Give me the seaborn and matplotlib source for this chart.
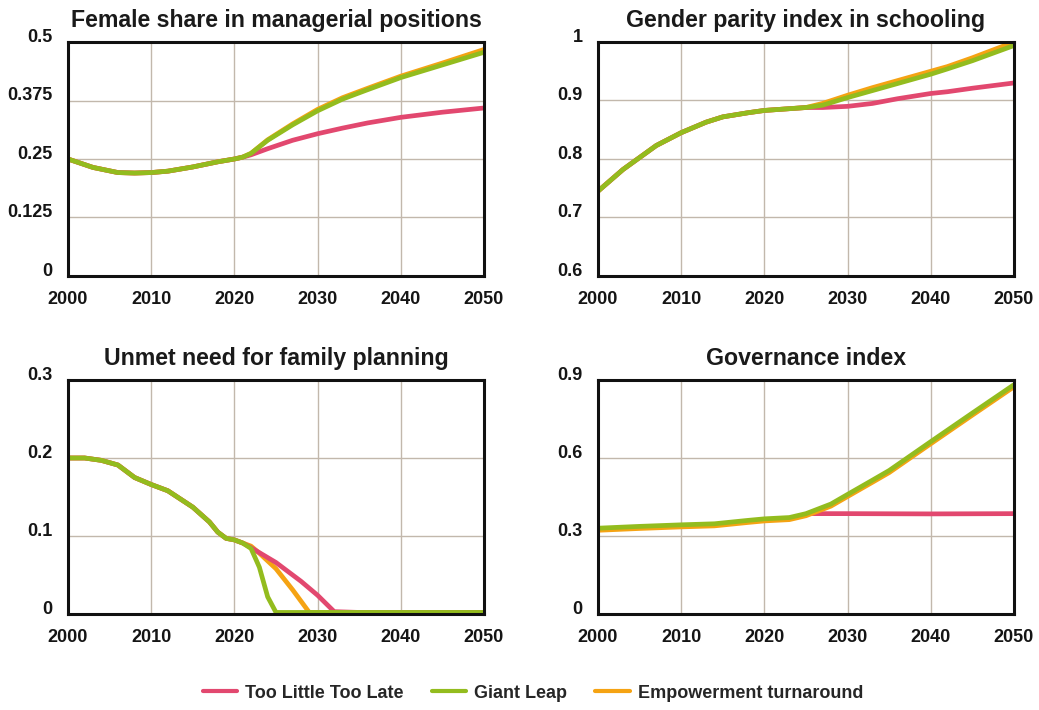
import numpy as np
import pandas as pd
import matplotlib
matplotlib.use("Agg")
import matplotlib.pyplot as plt
from matplotlib.lines import Line2D
import seaborn as sns

# ---------------- data ----------------
series_names = ["Too Little Too Late", "Giant Leap", "Empowerment turnaround"]
colors = {"Too Little Too Late": "#E2486F", "Giant Leap": "#93BC1E", "Empowerment turnaround": "#F5A313"}

titles = ["Female share in managerial positions", "Gender parity index in schooling",
          "Unmet need for family planning", "Governance index"]

# Panel 1: Female share in managerial positions
p1_years_hist = [2000, 2003, 2006, 2008, 2010, 2012, 2015, 2018, 2020, 2021]
p1_hist = [0.250, 0.232, 0.221, 0.220, 0.221, 0.224, 0.233, 0.244, 0.250, 0.254]
p1_years_proj = [2021, 2022, 2024, 2027, 2030, 2033, 2036, 2040, 2045, 2050]
p1_red = [0.254, 0.259, 0.272, 0.290, 0.304, 0.316, 0.327, 0.339, 0.350, 0.359]
p1_green = [0.254, 0.262, 0.290, 0.323, 0.353, 0.378, 0.398, 0.424, 0.451, 0.478]
p1_orange = [0.254, 0.262, 0.291, 0.325, 0.356, 0.381, 0.401, 0.427, 0.455, 0.484]

# Panel 2: Gender parity index in schooling
p2_years_hist = [2000, 2003, 2007, 2010, 2013, 2015, 2018, 2020, 2022, 2025]
p2_hist = [0.745, 0.782, 0.823, 0.845, 0.863, 0.872, 0.879, 0.883, 0.885, 0.888]
p2_years_proj = [2025, 2027, 2030, 2033, 2036, 2040, 2042, 2045, 2050]
p2_red = [0.888, 0.888, 0.890, 0.895, 0.903, 0.912, 0.915, 0.921, 0.930]
p2_green = [0.888, 0.892, 0.905, 0.917, 0.929, 0.945, 0.954, 0.968, 0.994]
p2_orange = [0.888, 0.895, 0.909, 0.922, 0.934, 0.950, 0.958, 0.973, 1.000]

# Panel 3: Unmet need for family planning
p3_years_hist = [2000, 2002, 2004, 2006, 2008, 2010, 2012, 2015, 2017, 2018, 2019, 2020, 2021]
p3_hist = [0.200, 0.200, 0.197, 0.191, 0.175, 0.166, 0.158, 0.137, 0.118, 0.105, 0.097, 0.095, 0.091]
p3_years_red = [2021, 2022, 2025, 2028, 2030, 2032, 2035, 2040, 2050]
p3_red = [0.091, 0.085, 0.066, 0.042, 0.024, 0.003, 0.002, 0.002, 0.002]
p3_years_green = [2021, 2022, 2023, 2024, 2025, 2030, 2040, 2050]
p3_green = [0.091, 0.084, 0.060, 0.022, 0.002, 0.002, 0.002, 0.002]
p3_years_orange = [2021, 2022, 2023, 2025, 2027, 2029, 2035, 2050]
p3_orange = [0.091, 0.087, 0.078, 0.058, 0.031, 0.002, 0.002, 0.002]

# Panel 4: Governance index
p4_years = [2000, 2005, 2010, 2014, 2018, 2020, 2023, 2025, 2028, 2030, 2033, 2035, 2040, 2045, 2050]
p4_green = [0.330, 0.337, 0.343, 0.347, 0.360, 0.366, 0.371, 0.386, 0.423, 0.460, 0.515, 0.552, 0.663, 0.773, 0.882]
p4_orange = [0.322, 0.329, 0.335, 0.339, 0.352, 0.358, 0.363, 0.378, 0.415, 0.452, 0.507, 0.544, 0.655, 0.765, 0.874]
p4_years_red = [2025, 2030, 2040, 2050]
p4_red = [0.386, 0.386, 0.385, 0.386]

y_limits = [(0, 0.5), (0.6, 1.0), (0, 0.3), (0, 0.9)]
y_ticks = [[0, 0.125, 0.25, 0.375, 0.5], [0.6, 0.7, 0.8, 0.9, 1.0], [0, 0.1, 0.2, 0.3], [0, 0.3, 0.6, 0.9]]
y_ticklabels = [["0", "0.125", "0.25", "0.375", "0.5"], ["0.6", "0.7", "0.8", "0.9", "1"],
                ["0", "0.1", "0.2", "0.3"], ["0", "0.3", "0.6", "0.9"]]
x_ticks = [2000, 2010, 2020, 2030, 2040, 2050]


def frame(parts):
    rows = []
    for name, xs, ys in parts:
        for x, y in zip(xs, ys):
            rows.append({"year": x, "value": y, "scenario": name})
    return pd.DataFrame(rows)


def with_hist(hx, hy, px, py):
    xs = list(hx) + [x for x in px if x > hx[-1]]
    ys = list(hy) + [y for x, y in zip(px, py) if x > hx[-1]]
    return xs, ys


panels = []
panels.append(frame([
    ("Empowerment turnaround", *with_hist(p1_years_hist, p1_hist, p1_years_proj, p1_orange)),
    ("Too Little Too Late", *with_hist(p1_years_hist, p1_hist, p1_years_proj, p1_red)),
    ("Giant Leap", *with_hist(p1_years_hist, p1_hist, p1_years_proj, p1_green)),
]))
panels.append(frame([
    ("Empowerment turnaround", *with_hist(p2_years_hist, p2_hist, p2_years_proj, p2_orange)),
    ("Too Little Too Late", *with_hist(p2_years_hist, p2_hist, p2_years_proj, p2_red)),
    ("Giant Leap", *with_hist(p2_years_hist, p2_hist, p2_years_proj, p2_green)),
]))
panels.append(frame([
    ("Empowerment turnaround", *with_hist(p3_years_hist, p3_hist, p3_years_orange, p3_orange)),
    ("Too Little Too Late", *with_hist(p3_years_hist, p3_hist, p3_years_red, p3_red)),
    ("Giant Leap", *with_hist(p3_years_hist, p3_hist, p3_years_green, p3_green)),
]))
panels.append(frame([
    ("Too Little Too Late", p4_years_red, p4_red),
    ("Empowerment turnaround", p4_years, p4_orange),
    ("Giant Leap", p4_years, p4_green),
]))

# ---------------- plot ----------------
sns.set_style("white")
plt.rcParams["font.family"] = ["Liberation Sans", "DejaVu Sans"]
plt.rcParams["font.weight"] = "bold"

fig = plt.figure(figsize=(10.39, 7.10), dpi=100)
W, H = 1039, 710
boxes = [(68, 42), (598, 42), (68, 380), (598, 380)]
aw, ah = 416, 234

for i, (df, (lx, ty)) in enumerate(zip(panels, boxes)):
    ax = fig.add_axes([lx / W, 1 - (ty + ah) / H, aw / W, ah / H])
    sns.lineplot(data=df, x="year", y="value", hue="scenario", palette=colors,
                 hue_order=list(dict.fromkeys(df["scenario"])), estimator=None,
                 sort=True, linewidth=3.4, legend=False, ax=ax,
                 solid_capstyle="butt", solid_joinstyle="round", clip_on=True)
    ax.set_xlim(2000, 2050)
    ax.set_ylim(*y_limits[i])
    ax.set_xticks(x_ticks)
    ax.set_xticklabels([str(t) for t in x_ticks], fontsize=13, fontweight="bold", color="#151515")
    ax.set_yticks(y_ticks[i])
    ax.set_yticklabels(y_ticklabels[i], fontsize=13, fontweight="bold", color="#151515")
    ax.tick_params(axis="both", length=0)
    ax.tick_params(axis="x", pad=11)
    ax.tick_params(axis="y", pad=11)
    for lab in ax.get_yticklabels():
        lab.set_verticalalignment("baseline")
    ax.grid(True, color="#C2B8AC", linewidth=1.0)
    ax.set_axisbelow(True)
    for s in ax.spines.values():
        s.set_visible(True)
        s.set_color("#111111")
        s.set_linewidth(2.2)
    ax.set_xlabel("")
    ax.set_ylabel("")
    ax.set_title(titles[i], fontsize=16.7, fontweight="bold", pad=11, color="#1a1a1a")

handles = [Line2D([0], [0], color=colors[n], linewidth=3) for n in series_names]
fig.legend(handles, series_names, loc="center", bbox_to_anchor=(533 / W, 1 - 693 / H),
           ncol=3, frameon=False, handlelength=1.9, columnspacing=1.55, handletextpad=0.45,
           prop={"weight": "bold", "size": 13})

fig.savefig("out.png", dpi=100, facecolor="white")
